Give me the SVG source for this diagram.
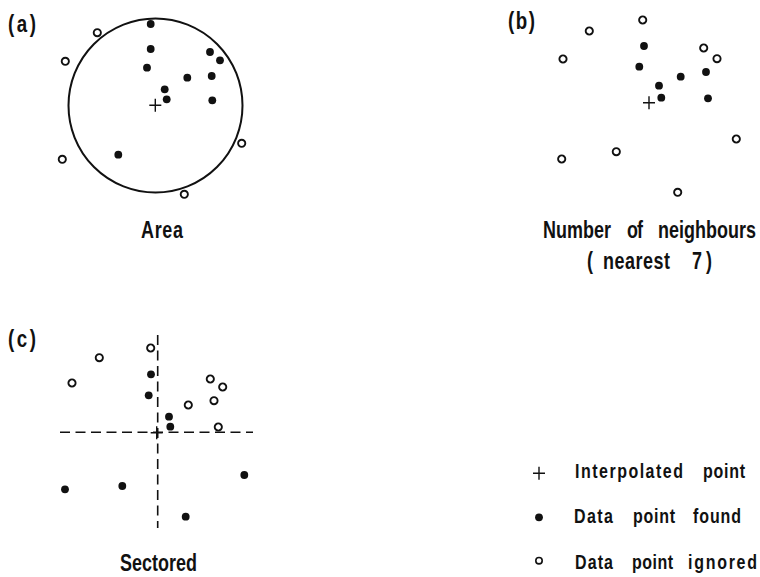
<svg xmlns="http://www.w3.org/2000/svg" width="760" height="577" viewBox="0 0 760 577">
<style>
text{font-family:"Liberation Sans","Arial",sans-serif;font-weight:bold;fill:#111}
.lbl{font-size:23px}
.leg{font-size:20.5px}
.pl{font-size:24px}
.ring{fill:#fff;stroke:#111;stroke-width:1.9}
.dot{fill:#111}
.cross{stroke:#111;stroke-width:1.4;fill:none}
.dash{stroke:#111;stroke-width:1.6;stroke-dasharray:10 5.5;fill:none}
</style>
<defs>
<circle id="d" class="dot" r="3.9"/>
<circle id="o" class="ring" r="3.6"/>
<path id="x" class="cross" d="M-6,0H6M0,-6.5V6.5"/>
</defs>
<g id="panel-a">
<text class="pl" transform="scale(0.78,1)" x="10.26" y="32" textLength="35.9">(a)</text>
<circle cx="155.5" cy="105.5" r="87" fill="none" stroke="#111" stroke-width="2"/>
<use href="#d" x="150.7" y="24"/>
<use href="#d" x="150.7" y="49"/>
<use href="#d" x="147" y="67.7"/>
<use href="#d" x="210" y="52"/>
<use href="#d" x="220" y="60.3"/>
<use href="#d" x="187.3" y="77.7"/>
<use href="#d" x="211.7" y="76"/>
<use href="#d" x="164.7" y="89.3"/>
<use href="#d" x="166.7" y="99.3"/>
<use href="#d" x="212.3" y="100.3"/>
<use href="#d" x="118.3" y="154.7"/>
<use href="#o" x="97.3" y="32.7"/>
<use href="#o" x="65.3" y="61.3"/>
<use href="#o" x="62.3" y="159.3"/>
<use href="#o" x="241.7" y="143.3"/>
<use href="#o" x="184.3" y="194.3"/>
<use href="#x" x="155.3" y="105.3"/>
<text class="lbl" transform="scale(0.78,1)" x="180.77" y="238" textLength="53.85">Area</text>
</g>
<g id="panel-b">
<text class="pl" transform="scale(0.78,1)" x="651.28" y="29" textLength="34.6">(b)</text>
<use href="#o" x="642.7" y="20"/>
<use href="#o" x="589.3" y="31"/>
<use href="#o" x="563" y="59"/>
<use href="#o" x="703.7" y="48"/>
<use href="#o" x="717" y="58.7"/>
<use href="#o" x="736.3" y="139"/>
<use href="#o" x="616.3" y="151.7"/>
<use href="#o" x="561.7" y="159"/>
<use href="#o" x="677.7" y="192.3"/>
<use href="#d" x="644" y="46"/>
<use href="#d" x="639.3" y="66.7"/>
<use href="#d" x="680.7" y="76.7"/>
<use href="#d" x="706" y="72"/>
<use href="#d" x="659" y="85.7"/>
<use href="#d" x="661.3" y="97.7"/>
<use href="#d" x="708" y="98.3"/>
<use href="#x" x="649" y="102.7"/>
<text class="lbl" transform="scale(0.78,1)" y="238"><tspan x="696.15" textLength="87.18">Number</tspan> <tspan x="803.85" textLength="20.51">of</tspan> <tspan x="843.59" textLength="125.64">neighbours</tspan></text>
<text class="lbl" transform="scale(0.78,1)" y="269"><tspan x="752.56">(</tspan> <tspan x="773.08" textLength="85.9">nearest</tspan> <tspan x="887.18" textLength="25.64">7)</tspan></text>
</g>
<g id="panel-c">
<text class="pl" transform="scale(0.78,1)" x="10.26" y="347" textLength="35.9">(c)</text>
<path class="dash" d="M157.7,335V528M60,432.3H253"/>
<use href="#o" x="150.7" y="348"/>
<use href="#o" x="99.3" y="357.7"/>
<use href="#o" x="72" y="383"/>
<use href="#o" x="210.3" y="379"/>
<use href="#o" x="222.7" y="387"/>
<use href="#o" x="214" y="400.7"/>
<use href="#o" x="188.3" y="405"/>
<use href="#o" x="218.3" y="427"/>
<use href="#d" x="151" y="374.3"/>
<use href="#d" x="148.7" y="395.3"/>
<use href="#d" x="169" y="416.7"/>
<use href="#d" x="170.3" y="426.7"/>
<use href="#d" x="244.3" y="475"/>
<use href="#d" x="122.3" y="486"/>
<use href="#d" x="65" y="489.3"/>
<use href="#d" x="185.7" y="516.7"/>
<use href="#x" x="156.7" y="432.7"/>
<text class="lbl" transform="scale(0.78,1)" x="153.85" y="571" textLength="98.72">Sectored</text>
</g>
<g id="legend">
<use href="#x" x="539" y="473.3"/>
<use href="#d" x="539" y="517.3"/>
<circle class="ring" cx="539" cy="560.7" r="3.2" style="stroke-width:1.6"/>
<text class="leg" transform="scale(0.78,1)" y="478"><tspan x="737.18" textLength="138.46">Interpolated</tspan> <tspan x="901.28" textLength="53.85">point</tspan></text>
<text class="leg" transform="scale(0.78,1)" y="523"><tspan x="735.9" textLength="50">Data</tspan> <tspan x="811.54" textLength="53.85">point</tspan> <tspan x="888.46" textLength="61.54">found</tspan></text>
<text class="leg" transform="scale(0.78,1)" y="569"><tspan x="737.18" textLength="48.72">Data</tspan> <tspan x="810.26" textLength="52.56">point</tspan> <tspan x="882.05" textLength="88.46">ignored</tspan></text>
</g>
</svg>
